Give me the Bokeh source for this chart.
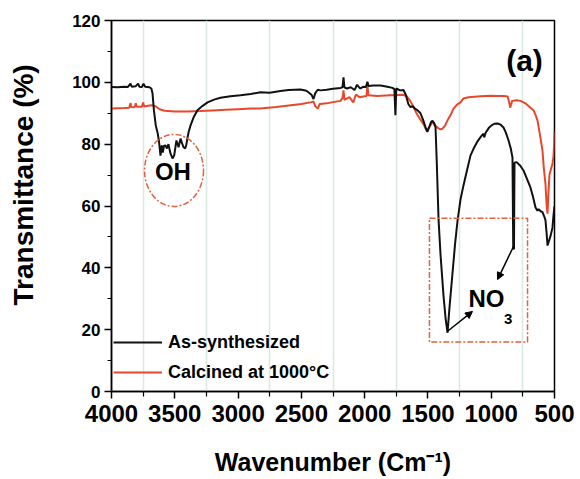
from bokeh.plotting import figure
from bokeh.models import (Range1d, FixedTicker, Legend, LegendItem, Label,
                          Arrow, NormalHead, Title)
from bokeh.embed import file_html
from bokeh.resources import INLINE

# ---------------- data ----------------
black_wn = [4000, 3950, 3900, 3870, 3850, 3840, 3810, 3790, 3780, 3760, 3747, 3735,
            3700, 3685, 3676, 3665, 3650, 3635, 3625, 3613, 3603, 3595, 3585, 3573,
            3562, 3550, 3540, 3534, 3518, 3505, 3495, 3487, 3470, 3455, 3440, 3431,
            3418, 3408, 3400, 3390, 3376, 3350, 3321, 3280, 3241, 3190, 3139, 3060,
            2981, 2900, 2823, 2750, 2665, 2600, 2507, 2460, 2420, 2404, 2390, 2370,
            2349, 2300, 2250, 2190, 2175, 2167, 2160, 2140, 2110, 2080, 2060, 2040,
            2033, 2010, 1990, 1978, 1970, 1930, 1875, 1820, 1780, 1765, 1757, 1750,
            1720, 1693, 1675, 1655, 1638, 1620, 1600, 1583, 1559, 1535, 1515, 1504,
            1490, 1475, 1464, 1452, 1440, 1430, 1416, 1400, 1377, 1360, 1345, 1330,
            1315, 1300, 1285, 1266, 1243, 1220, 1200, 1180, 1164, 1140, 1110, 1080,
            1061, 1055, 1045, 1020, 1000, 975, 950, 925, 903, 885, 863, 845, 832,
            826, 820, 816, 800, 770, 745, 720, 690, 670, 650, 635, 626, 610, 595,
            580, 571, 562, 555, 545, 530, 516, 508, 500]
black_t = [98.5, 98.4, 98.6, 98.5, 99.6, 98.6, 98.7, 99.6, 98.6, 98.5, 99.6, 98.6,
           98.4, 98.0, 96.5, 91.0, 86.0, 83.5, 81.0, 76.3, 79.6, 77.3, 79.5, 79.6,
           78.6, 80.0, 78.0, 77.0, 75.4, 76.3, 79.0, 81.2, 79.0, 81.8, 80.0, 79.0,
           78.6, 80.0, 82.0, 84.0, 86.0, 88.8, 91.0, 92.4, 93.5, 94.4, 95.0, 95.5,
           95.8, 96.2, 96.8, 96.6, 97.2, 97.5, 97.7, 97.3, 96.0, 94.6, 96.5, 97.6,
           97.4, 97.6, 97.9, 98.2, 98.4, 101.6, 98.4, 98.0, 98.4, 97.5, 99.2, 98.2,
           98.0, 98.6, 98.5, 100.2, 98.8, 99.0, 99.0, 98.6, 98.2, 97.8, 89.4, 98.0,
           97.4, 97.5, 96.0, 93.0, 92.0, 92.3, 91.4, 91.0, 90.0, 87.5, 85.0, 84.0,
           85.5, 87.2, 87.6, 86.8, 85.5, 74.0, 55.5, 44.0, 31.0, 23.5, 19.0, 27.0,
           34.0, 41.0, 48.0, 55.3, 62.0, 66.5, 70.0, 73.5, 76.3, 78.5, 80.8, 82.5,
           83.4, 82.2, 83.6, 85.2, 86.0, 86.6, 86.7, 86.3, 85.4, 83.8, 81.2, 78.5, 75.7,
           46.5, 46.0, 74.0, 74.2, 73.0, 71.5, 69.0, 66.0, 63.0, 59.5, 58.5, 59.0, 58.3, 58.0,
           56.5, 55.3, 51.0, 47.2, 48.5, 50.5, 53.0, 57.0, 60.0]

red_wn = [4000, 3950, 3900, 3860, 3850, 3843, 3815, 3808, 3800, 3760, 3750, 3742,
          3700, 3680, 3650, 3620, 3580, 3500, 3400, 3300, 3200, 3100, 3000, 2900,
          2823, 2700, 2600, 2500, 2420, 2404, 2390, 2370, 2355, 2300, 2250, 2190,
          2175, 2167, 2160, 2120, 2090, 2070, 2040, 2000, 1985, 1978, 1970, 1900,
          1800, 1760, 1700, 1670, 1640, 1614, 1590, 1560, 1535, 1510, 1490, 1470,
          1456, 1440, 1420, 1401, 1385, 1365, 1345, 1320, 1298, 1270, 1243, 1219,
          1180, 1084, 1000, 950, 900, 870, 858, 850, 845, 835, 800, 768, 730, 690,
          666, 650, 634, 615, 595, 585, 571, 562, 555, 548, 540, 531, 516, 508, 503, 500]
red_t = [91.5, 91.6, 91.7, 91.8, 93.3, 91.9, 92.0, 93.2, 92.1, 92.1, 93.5, 92.2,
         92.5, 92.6, 92.2, 91.3, 90.8, 90.6, 90.6, 90.7, 90.9, 91.1, 91.3, 91.5,
         91.5, 92.0, 92.5, 93.0, 93.6, 93.8, 92.3, 91.5, 93.0, 93.2, 93.6, 94.0,
         95.0, 97.4, 94.3, 95.2, 93.5, 96.0, 95.2, 95.5, 95.6, 99.0, 95.8, 95.6,
         95.8, 95.8, 96.0, 95.6, 94.0, 92.0, 90.0, 88.0, 86.5, 84.3, 85.5, 86.8,
         87.0, 86.0, 85.2, 84.8, 85.0, 86.0, 87.7, 89.5, 91.5, 92.8, 93.5, 94.8,
         95.2, 95.5, 95.7, 95.6, 95.6, 95.4, 93.5, 91.8, 92.5, 94.0, 94.2, 94.0, 93.2, 91.8,
         91.0, 89.5, 87.6, 83.0, 78.0, 72.5, 67.0, 60.0, 57.5, 64.0, 70.0, 71.5, 73.7, 76.0, 80.0, 84.0]

series_names = ["As-synthesized", "Calcined at 1000°C"]
y_title = "Transmittance (%)"
x_title = "Wavenumber (Cm⁻¹)"
x_ticks = [4000, 3500, 3000, 2500, 2000, 1500, 1000, 500]
x_minor = [3750, 3250, 2750, 2250, 1750, 1250, 750]
y_ticks = [0, 20, 40, 60, 80, 100, 120]
y_minor = [10, 30, 50, 70, 90, 110]

# ---------------- annotation placement (data units) ----------------
OH_CENTER = (3506, 71.5)
OH_SIZE = (466, 23.3)
OH_TEXT = (3515, 71.0)
NO3_BOX = dict(left=1488, right=713, top=56, bottom=16)
NO_TEXT = (1037, 30.1)
SUB3_TEXT = (866, 23.6)
ARROW1 = (1345, 19.5, 1148, 25.9)
ARROW2 = (824, 46.9, 950, 36.2)
PANEL_TEXT = (737, 107.0)

FONT = "Liberation Sans"
BLACK = "#111111"
RED = "#e8472b"
ANNOT = "#e0623f"

p = figure(width=580, height=479, output_backend="svg", toolbar_location=None,
           x_range=Range1d(4000, 500), y_range=Range1d(0, 120),
           min_border_left=111, min_border_right=26, min_border_top=20,
           min_border_bottom=88)
p.background_fill_color = "white"
p.border_fill_color = "white"
p.outline_line_color = "black"
p.outline_line_width = 1.5
p.outline_line_alpha = 1.0

# grid: faint lines at the odd (minor) positions only
p.xgrid.ticker = FixedTicker(ticks=x_minor)
p.xgrid.grid_line_color = "#d8eadf"
p.xgrid.grid_line_width = 1.5
p.ygrid.grid_line_color = None

p.xaxis.ticker = FixedTicker(ticks=x_ticks, minor_ticks=x_minor)
p.yaxis.ticker = FixedTicker(ticks=y_ticks, minor_ticks=y_minor)
for ax in (p.xaxis[0], p.yaxis[0]):
    ax.axis_line_color = "black"
    ax.axis_line_width = 1.5
    ax.major_tick_line_color = "black"
    ax.minor_tick_line_color = "black"
    ax.major_tick_line_width = 1.5
    ax.minor_tick_line_width = 1.2
    ax.major_tick_in = 0
    ax.minor_tick_in = 0
    ax.major_tick_out = 7
    ax.minor_tick_out = 5
    ax.major_label_text_font = FONT
    ax.major_label_text_font_style = "bold"
    ax.major_label_text_color = "black"

p.xaxis.major_label_text_font_size = "24px"
p.xaxis.major_label_standoff = 6
p.yaxis.major_label_text_font_size = "17px"
p.yaxis.major_label_standoff = 4
p.yaxis.minor_tick_out = 4

p.xaxis.axis_label = x_title
p.xaxis.axis_label_text_font = FONT
p.xaxis.axis_label_text_font_style = "bold"
p.xaxis.axis_label_text_font_size = "25px"
p.xaxis.axis_label_text_color = "black"
p.xaxis.axis_label_standoff = 23

# y-axis title as a side title (a blank second line pushes it outward)
ytitle = Title(text=y_title + "\n\u00a0", align="left", offset=86,
               text_font=FONT, text_font_style="bold", text_font_size="28px",
               text_color="black", standoff=0)
p.add_layout(ytitle, "left")

# curves
l_red = p.line(red_wn, red_t, line_color=RED, line_width=2)
l_black = p.line(black_wn, black_t, line_color=BLACK, line_width=2)

# OH ellipse & NO3 box
p.ellipse(x=[OH_CENTER[0]], y=[OH_CENTER[1]], width=OH_SIZE[0], height=OH_SIZE[1],
          fill_alpha=0, line_color=ANNOT, line_width=1.5, line_dash="6 2 2 2")
p.quad(left=[NO3_BOX["left"]], right=[NO3_BOX["right"]], top=[NO3_BOX["top"]],
       bottom=[NO3_BOX["bottom"]], fill_alpha=0, line_color=ANNOT,
       line_width=1.5, line_dash="6 2 2 2")

for (xs, ys, xe, ye) in (ARROW1, ARROW2):
    p.add_layout(Arrow(end=NormalHead(size=7, fill_color="black", line_color="black"),
                       x_start=xs, y_start=ys, x_end=xe, y_end=ye,
                       line_color="black", line_width=1.5))

def add_label(xy, text, size):
    p.add_layout(Label(x=xy[0], y=xy[1], text=text, text_align="center",
                       text_baseline="middle", text_font=FONT,
                       text_font_style="bold", text_font_size=size,
                       text_color="black"))

add_label(OH_TEXT, "OH", "24px")
add_label(NO_TEXT, "NO", "24px")
add_label(SUB3_TEXT, "3", "15px")
add_label(PANEL_TEXT, "(a)", "30px")

legend = Legend(items=[LegendItem(label=series_names[0], renderers=[l_black]),
                       LegendItem(label=series_names[1], renderers=[l_red])],
                location=(2, 4), glyph_width=49, glyph_height=30, label_height=30,
                spacing=0, padding=0, margin=0, label_standoff=6,
                border_line_alpha=0, background_fill_alpha=0,
                label_text_font=FONT, label_text_font_style="bold",
                label_text_font_size="18px", label_text_color="black")
p.add_layout(legend, "center")

open("out.html", "w").write(file_html(p, INLINE))
